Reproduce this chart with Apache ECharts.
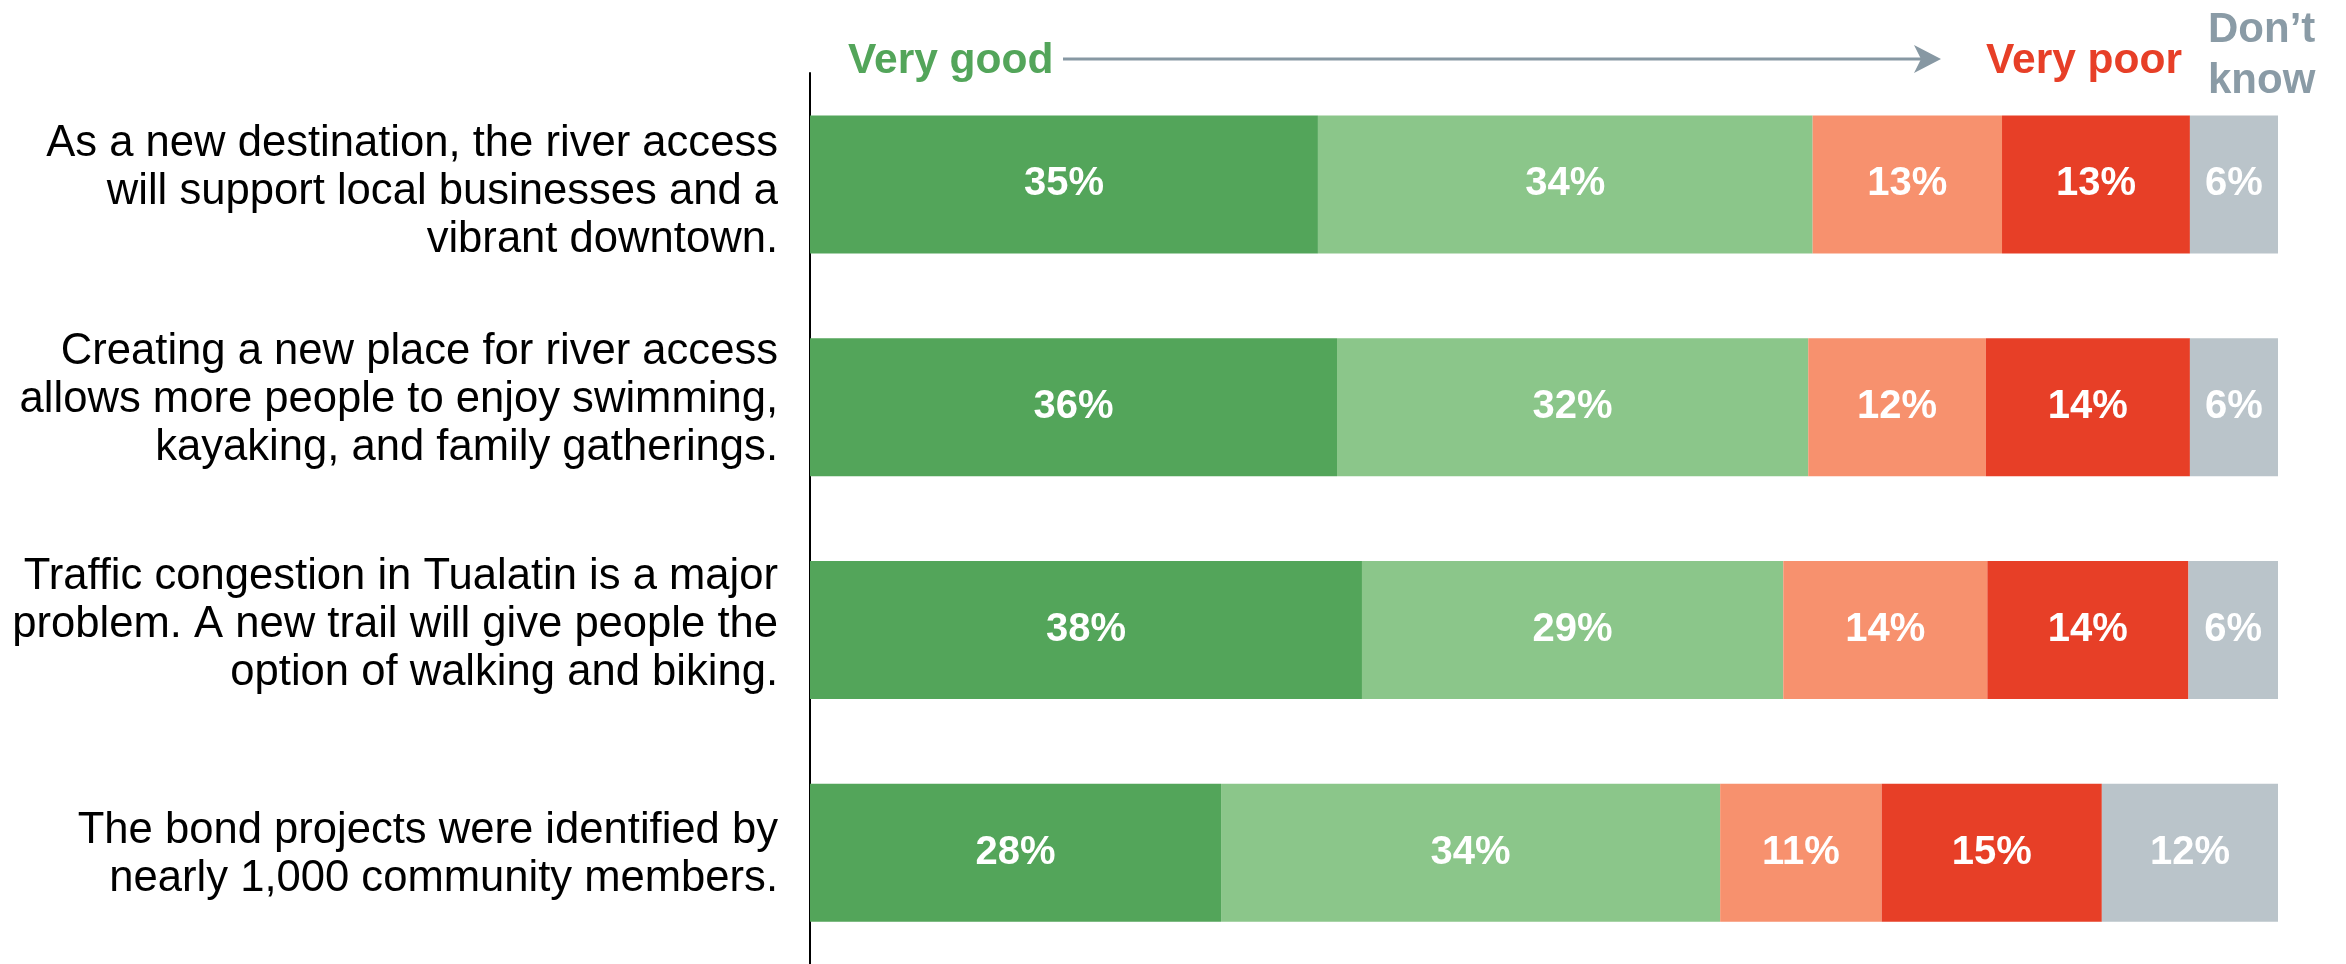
<!DOCTYPE html>
<html>
<head>
<meta charset="utf-8">
<script src="https://cdn.jsdelivr.net/npm/echarts@6/dist/echarts.min.js"></script>
<style>
html,body{margin:0;padding:0;background:#fff;}
#chart{width:2346px;height:964px;}
</style>
</head>
<body>
<div id="chart"></div>
<script>
const categories = [
  "As a new destination, the river access\nwill support local businesses and a\nvibrant downtown.",
  "Creating a new place for river access\nallows more people to enjoy swimming,\nkayaking, and family gatherings.",
  "Traffic congestion in Tualatin is a major\nproblem. A new trail will give people the\noption of walking and biking.",
  "The bond projects were identified by\nnearly 1,000 community members."
];
const seriesNames = ["Very good", "Good", "Poor", "Very poor", "Don't know"];
const veryGood = [34.6, 35.9, 37.6, 28.0];
const good     = [33.7, 32.1, 28.7, 34.0];
const poor     = [12.9, 12.1, 13.9, 11.0];
const veryPoor = [12.8, 13.9, 13.7, 15.0];
const dontKnow = [6.0, 6.0, 6.1, 12.0];
const colors = ["#53A55A", "#8BC68A", "#F7916E", "#E73F27", "#BAC4CA"];

// vertical nudges of the category labels relative to the band centre (styling only)
const labelNudge = [8, -7, -5, 2];

const FONT = "'Liberation Sans', Arial, Helvetica, sans-serif";
const chart = echarts.init(document.getElementById('chart'));
const values = [veryGood, good, poor, veryPoor, dontKnow];

const option = {
  animation: false,
  backgroundColor: '#ffffff',
  grid: { left: 810, right: 68, top: 73, height: 894, containLabel: false },
  xAxis: {
    type: 'value', min: 0, max: 100,
    show: false
  },
  yAxis: {
    type: 'category',
    data: categories,
    inverse: true,
    axisLine: { show: true, lineStyle: { color: '#000', width: 2 } },
    axisTick: { show: false },
    splitLine: { show: false },
    axisLabel: { show: false }
  },
  series: values.map((arr, i) => ({
    name: seriesNames[i],
    type: 'bar',
    stack: 'total',
    data: arr,
    barWidth: 138,
    itemStyle: { color: colors[i] },
    label: {
      show: true,
      position: 'inside',
      color: '#fff',
      fontFamily: FONT,
      fontWeight: 'bold',
      fontSize: 40,
      formatter: p => Math.round(p.value) + '%'
    }
  })),
  graphic: [
    {
      type: 'text', left: 848, top: 40,
      style: { text: 'Very good', fill: '#53A55A', font: 'bold 42.5px ' + FONT }
    },
    {
      type: 'line', shape: { x1: 1063, y1: 59, x2: 1930, y2: 59 },
      style: { stroke: '#8798A3', lineWidth: 3 }
    },
    {
      type: 'polygon',
      shape: { points: [[1914, 45], [1941, 59], [1914, 73], [1921, 59]] },
      style: { fill: '#8798A3' }
    },
    {
      type: 'text', left: 1986, top: 40,
      style: { text: 'Very poor', fill: '#E73F27', font: 'bold 42.5px ' + FONT }
    },
    {
      type: 'text', left: 2208, top: 5,
      style: { text: 'Don\u2019t\nknow', fill: '#8A9BA6', font: 'bold 42px ' + FONT, lineHeight: 51 }
    }
  ]
};
chart.setOption(option);

// category labels, placed from the category axis scale
const axisX = chart.convertToPixel({ gridIndex: 0 }, [0, 0])[0];
const labelGraphics = categories.map((c, i) => {
  const y = chart.convertToPixel({ yAxisIndex: 0 }, c);
  return {
    type: 'text',
    x: axisX - 32,
    y: y + labelNudge[i],
    style: {
      text: c,
      fill: '#000',
      font: '43.6px ' + FONT,
      lineHeight: 48,
      align: 'right',
      verticalAlign: 'middle'
    }
  };
});
chart.setOption({ graphic: option.graphic.concat(labelGraphics) });
</script>
</body>
</html>
